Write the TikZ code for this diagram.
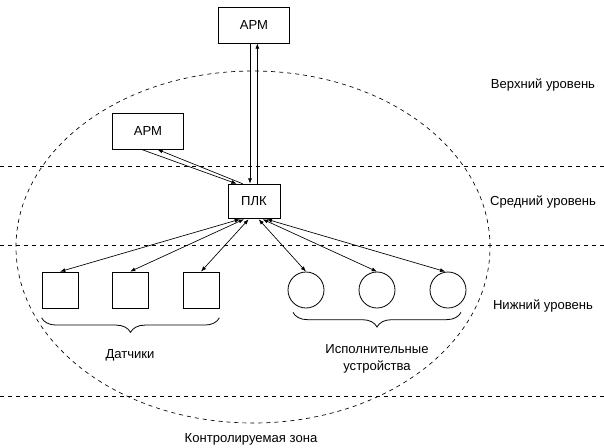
\documentclass[tikz,border=0pt]{standalone}
\usepackage{fontspec}
\setmainfont{Liberation Sans}
\usetikzlibrary{arrows.meta,decorations.pathreplacing}

\begin{document}
\begin{tikzpicture}[x=0.75pt,y=-0.75pt,font=\fontsize{9.8}{12.75}\selectfont,
  box/.style={draw,line width=0.6pt,minimum width=53pt,minimum height=27pt,inner sep=0pt},
  sensor/.style={draw,line width=0.6pt,minimum size=27pt,inner sep=0pt},
  actuator/.style={draw,circle,line width=0.6pt,minimum size=27pt,inner sep=0pt},
  link/.style={-{Latex[length=4pt,width=3pt]},line width=0.5pt},
  duplex/.style={{Latex[length=4pt,width=3pt]}-{Latex[length=4pt,width=3pt]},line width=0.5pt},
  zone/.style={dash pattern=on 3pt off 3pt,line width=0.5pt},
  curly/.style={decorate,decoration={brace,mirror,amplitude=11pt},line width=0.6pt}]
\useasboundingbox (0,0) rectangle (604,447);

% levels and controlled zone
\draw[zone] (0,166) -- (604,166);
\draw[zone] (0,245) -- (604,245);
\draw[zone] (0,396) -- (604,396);
\draw[zone] (253,247) ellipse [x radius=177.75pt, y radius=132pt];
\node at (543,85) {Верхний уровень};
\node at (543,202) {Средний уровень};
\node at (543,306) {Нижний уровень};
\node at (251,439) {Контролируемая зона};

% workstations and controller
\node[box] (arm1) at (254,25) {АРМ};
\node[box] (arm2) at (148,131) {АРМ};
\node[box,minimum width=39pt,minimum height=26pt] (plk) at (254,201.5) {ПЛК};

\draw[link] ([xshift=-3pt]arm1.south) -- ([xshift=-3pt]plk.north);
\draw[link] ([xshift=2.5pt]plk.north) -- ([xshift=2.5pt]arm1.south);
\draw[link] ([xshift=-5pt]arm2.south) -- ([xshift=-13pt]plk.north);
\draw[link] ([xshift=-8.5pt]plk.north) -- ([xshift=7pt]arm2.south);

% field devices
\node[sensor] (s1) at (60,290) {};
\node[sensor] (s2) at (130,290) {};
\node[sensor] (s3) at (201,290) {};
\node[actuator] (a1) at (306,290) {};
\node[actuator] (a2) at (377,290) {};
\node[actuator] (a3) at (448,290) {};

\draw[duplex] ([xshift=-10.5pt]plk.south) -- (s1.north);
\draw[duplex] ([xshift=-7.5pt]plk.south) -- (s2.north);
\draw[duplex] ([xshift=-4pt]plk.south) -- (s3.north);
\draw[duplex] ([xshift=3.5pt]plk.south) -- (a1.north);
\draw[duplex] ([xshift=6.5pt]plk.south) -- (a2.north);
\draw[duplex] ([xshift=9.5pt]plk.south) -- ([xshift=-2pt]a3.north);

\draw[curly] ([yshift=-7pt]s1.south west) -- ([yshift=-7pt]s3.south east);
\draw[curly] ([yshift=-7pt]a1.south west) -- ([yshift=-7pt]a3.south east);
\node at (130,355) {Датчики};
\node[align=center] at (377,359) {Исполнительные\\устройства};
\end{tikzpicture}
\end{document}
